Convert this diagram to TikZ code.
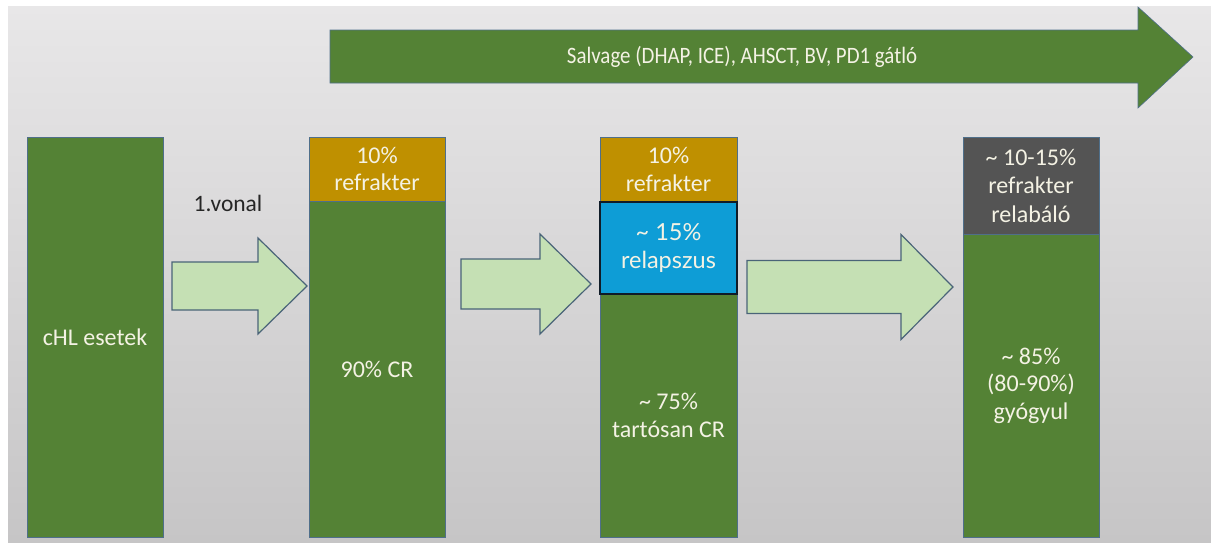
\documentclass[tikz,border=0pt]{standalone}
\usepackage{fontspec}
\setmainfont{Carlito}
\newfontfamily\altfont{Lato}
\definecolor{bggtop}{HTML}{E8E7E8}
\definecolor{bggbot}{HTML}{C6C5C6}
\definecolor{bargreen}{HTML}{548235}
\definecolor{bargold}{HTML}{BF9000}
\definecolor{barblue}{HTML}{0E9DD6}
\definecolor{bargray}{HTML}{545454}
\definecolor{arrowfill}{HTML}{C5E0B4}
\definecolor{arrowline}{HTML}{4A6478}
\definecolor{barline}{HTML}{4F6F8A}
\definecolor{bartext}{HTML}{F4F2E4}
\definecolor{bluebord}{HTML}{101C28}
\tikzset{
  barbox/.style={rectangle, anchor=north west, inner sep=0pt, outer sep=0pt,
    draw=barline, line width=0.6pt, text=bartext, align=center,
    font=\fontsize{24}{27.5}\selectfont},
  blockarr/.style={fill=arrowfill, draw=arrowline, line width=1.2pt, line join=miter},
}
\newcommand\blockarrow[6]{% x0, xh, xt, yc, body half, head half
  \draw[blockarr] (#1,#4-#5) -- (#2,#4-#5) -- (#2,#4-#6) -- (#3,#4) -- (#2,#4+#6) -- (#2,#4+#5) -- (#1,#4+#5) -- cycle;}
\begin{document}
\begin{tikzpicture}[x=1pt,y=-1pt]
\useasboundingbox (0,0) rectangle (1211,542);
\fill[white] (0,0) rectangle (1211,542);
\shade[top color=bggtop, bottom color=bggbot] (8,6) rectangle (1211,542);

% big top arrow
\fill[bargreen] (330,30) -- (1138,30) -- (1138,7) -- (1193,57) -- (1138,108) -- (1138,83) -- (330,83) -- cycle;
\draw[barline, line width=0.6pt] (330,30) -- (1138,30) -- (1138,7) -- (1193,57) -- (1138,108) -- (1138,83) -- (330,83) -- cycle;
\node[text=bartext, font=\fontsize{23.5}{27}\selectfont, inner sep=0pt] (salv) at (742,57) {\scalebox{0.89}[1]{Salvage (DHAP, ICE), AHSCT, BV, PD1 gátló}};

% bar 1
\node[barbox, fill=bargreen, minimum width=136pt, minimum height=400pt] (b1) at (27,137) {cHL esetek};

% bar 2
\node[barbox, fill=bargold, minimum width=136pt, minimum height=64pt] (b2top) at (309,137) {10\%\\refrakter};
\node[barbox, fill=bargreen, minimum width=136pt, minimum height=336pt] (b2bot) at (309,201) {90\% CR};

% bar 3
\node[barbox, fill=bargold, minimum width=137pt, minimum height=65pt] (b3top) at (600,137) {10\%\\refrakter};
\node[barbox, fill=bargreen, minimum width=137pt, minimum height=243pt] (b3bot) at (600,294) {\textasciitilde{} 75\%\\tartósan CR};
\node[barbox, fill=barblue, draw=bluebord, line width=1.8pt, minimum width=137pt, minimum height=92pt, font=\altfont\fontsize{23.5}{27.5}\selectfont] (b3mid) at (600,202) {\textasciitilde{} 15\%\\relapszus};

% bar 4
\node[barbox, fill=bargray, minimum width=136pt, minimum height=97pt, font=\fontsize{24}{28.5}\selectfont] (b4top) at (963,137) {\textasciitilde{} 10-15\%\\refrakter\\relabáló};
\node[barbox, fill=bargreen, minimum width=136pt, minimum height=303pt] (b4bot) at (963,234) {\textasciitilde{} 85\%\\(80-90\%)\\gyógyul};

% light arrows
\blockarrow{172}{258}{307}{286}{24}{48}
\blockarrow{461}{540}{591}{284}{25}{50}
\blockarrow{747}{901}{953}{287}{26.5}{52.5}

\node[text=black!85, font=\fontsize{23.5}{27}\selectfont, inner sep=0pt] (vonal) at (228,203) {1.vonal};
\end{tikzpicture}
\end{document}
